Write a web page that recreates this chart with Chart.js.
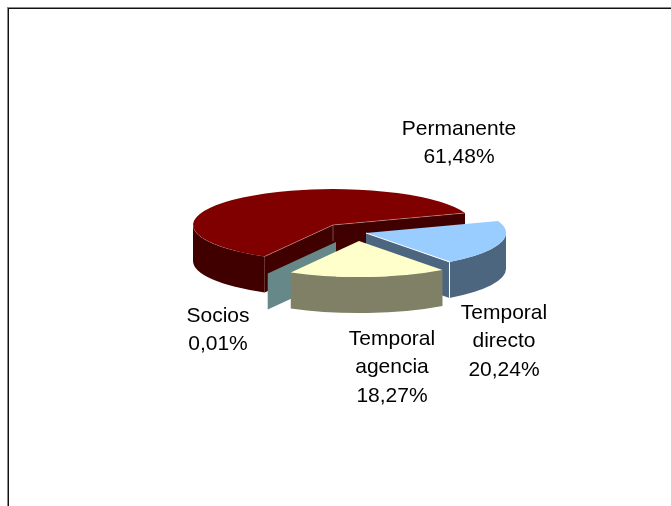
<!DOCTYPE html>
<html>
<head>
<meta charset="utf-8">
<style>
html,body{margin:0;padding:0;background:#fff;overflow:hidden;width:671px;height:506px}
#wrap{position:relative;width:671px;height:506px;overflow:hidden}
#frame{position:absolute;left:7px;top:7px;width:900px;height:900px;border-left:1px solid #888;border-top:1px solid #888}
#frame2{position:absolute;left:8px;top:8px;width:900px;height:900px;border-left:1px solid #111;border-top:1px solid #111}
canvas{position:absolute;left:0;top:0}
</style>
<script src="https://cdn.jsdelivr.net/npm/chart.js@4"></script>
</head>
<body>
<div id="wrap">
<div id="frame"></div><div id="frame2"></div>
<canvas id="c" width="671" height="506"></canvas>
</div>
<script>
const categories = ['Permanente', 'Temporal directo', 'Temporal agencia', 'Socios'];
const values = [61.48, 20.24, 18.27, 0.01];
const labelLines = [['Permanente'], ['Temporal', 'directo'], ['Temporal', 'agencia'], ['Socios']];
const topColors = ['#800000', '#99CCFF', '#FFFFCC', '#669999'];
const sideColors = ['#400000', '#4D6680', '#808066', '#668888'];
const explodeX = [0, 33, 26, 3];
const explodeY = [0, 8, 16, 17];
const paintOrder = [0, 3, 1, 2];
const labelX = [459, 504, 392, 218];
const labelY = [129, 313, 339, 316];

const TILT = 0.257, DEPTH = 36, LINE = 28.7;
const FONT = '21px "Liberation Sans", Arial, sans-serif';

const pie3d = {
  id: 'pie3d',
  beforeDatasetDraw(chart, args) {
    const ctx = chart.ctx;
    const arcs = chart.getDatasetMeta(args.index).data;
    paintOrder.forEach(i => {
      const arc = arcs[i];
      const p = arc.getProps(['x', 'y', 'startAngle', 'endAngle', 'outerRadius'], true);
      const cx = p.x + explodeX[i], cy = p.y + explodeY[i], r = p.outerRadius;
      const ry = r * TILT;
      const a1 = p.startAngle, a2 = p.endAngle;
      const px = a => cx + Math.cos(a) * r;
      const py = a => cy + Math.sin(a) * ry;
      ctx.save();
      ctx.fillStyle = sideColors[i];
      const face = a => {
        ctx.beginPath();
        ctx.moveTo(cx, cy);
        ctx.lineTo(px(a), py(a));
        ctx.lineTo(px(a), py(a) + DEPTH);
        ctx.lineTo(cx, cy + DEPTH);
        ctx.closePath();
        ctx.fill();
      };
      if (Math.sin(a1 - Math.PI / 2) > 0) face(a1);
      if (Math.sin(a2 + Math.PI / 2) > 0) face(a2);
      // outer wall: the front half of the rim that lies within this slice
      for (let k = -1; k <= 2; k++) {
        const s = Math.max(a1, k * 2 * Math.PI), e = Math.min(a2, k * 2 * Math.PI + Math.PI);
        if (e <= s) continue;
        ctx.beginPath();
        ctx.ellipse(cx, cy, r, ry, 0, s, e, false);
        ctx.ellipse(cx, cy + DEPTH, r, ry, 0, e, s, true);
        ctx.closePath();
        ctx.fill();
      }
      // top surface: the library's own arc, squashed into the tilted plane
      ctx.save();
      ctx.translate(cx, cy);
      ctx.scale(1, TILT);
      ctx.translate(-p.x, -p.y);
      arc.draw(ctx);
      ctx.restore();
      // light seams
      ctx.lineWidth = 1;
      ctx.strokeStyle = i === 1 ? '#ffffff' : 'rgba(255,255,255,0.3)';
      if (i === 0) {
        ctx.beginPath();
        ctx.moveTo(px(a1), py(a1));
        ctx.lineTo(cx, cy);
        ctx.lineTo(px(a2), py(a2));
        ctx.moveTo(cx, cy);
        ctx.lineTo(cx, cy + DEPTH * 0.45);
        ctx.stroke();
      }
      if (i === 1) {
        ctx.beginPath();
        ctx.moveTo(cx, cy);
        ctx.lineTo(px(a2), py(a2));
        ctx.lineTo(px(a2), py(a2) + DEPTH);
        ctx.stroke();
      }
      ctx.restore();
    });
    return false;
  },
  afterDraw(chart) {
    const ctx = chart.ctx;
    ctx.save();
    ctx.font = FONT;
    ctx.fillStyle = '#000';
    ctx.textAlign = 'center';
    ctx.textBaseline = 'middle';
    categories.forEach((name, i) => {
      const lines = labelLines[i].concat(values[i].toFixed(2).replace('.', ',') + '%');
      lines.forEach((t, j) => ctx.fillText(t, labelX[i], labelY[i] + j * LINE));
    });
    ctx.restore();
  }
};

new Chart(document.getElementById('c'), {
  type: 'pie',
  data: {
    labels: categories,
    datasets: [{ data: values, backgroundColor: topColors, borderWidth: 0 }]
  },
  options: {
    responsive: false,
    animation: false,
    rotation: 209.2,
    layout: { padding: { top: 85, bottom: 141, left: 0, right: 5 } },
    plugins: { legend: { display: false }, tooltip: { enabled: false } }
  },
  plugins: [pie3d]
});
</script>
</body>
</html>
